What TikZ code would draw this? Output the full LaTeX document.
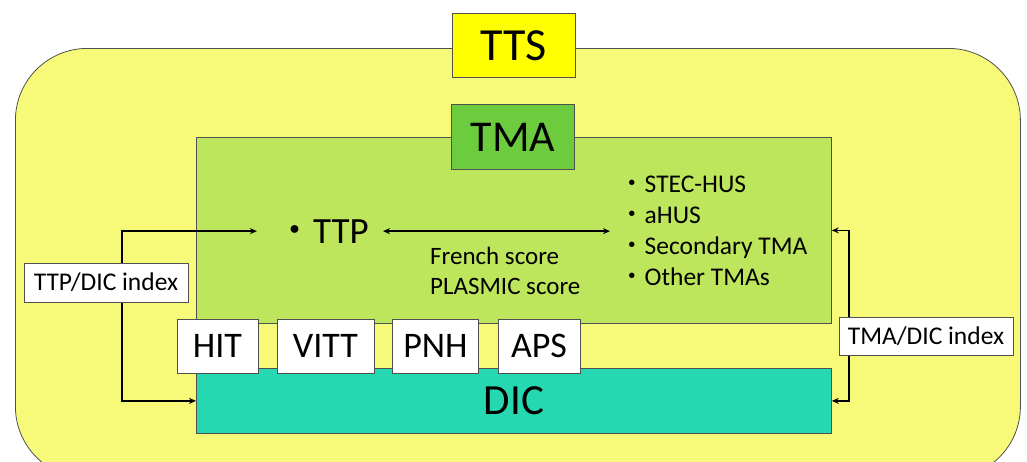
\documentclass[tikz,border=0pt]{standalone}
\usepackage{fontspec}
\setmainfont{Carlito}
\newfontfamily\cjkf{Noto Sans CJK JP}
\newcommand{\bul}{{\cjkf ・}}
\usetikzlibrary{arrows.meta}
\definecolor{outery}{HTML}{F7FA78}
\definecolor{ttsy}{HTML}{FFFF00}
\definecolor{tmag}{HTML}{6DCC3D}
\definecolor{areag}{HTML}{BEE65C}
\definecolor{dicc}{HTML}{26D8B2}
\definecolor{edge}{HTML}{505050}
\tikzset{
  box/.style={draw=edge, line width=0.8pt, inner sep=0pt, anchor=north west},
  wbox/.style={draw=edge, line width=0.8pt, fill=white, inner sep=0pt},
  conn/.style={line width=1.6pt, {Stealth[length=7pt,width=6pt]}-{Stealth[length=7pt,width=6pt]}},
}
\begin{document}
\begin{tikzpicture}[x=1pt,y=-1pt]
\useasboundingbox (0,0) rectangle (1027,461);
\clip (0,0) rectangle (1027,461);
% outer rounded area
\node[box, fill=outery, rounded corners=72pt, minimum width=1005pt, minimum height=430pt] (tts area) at (15,48) {};
\node[box, fill=ttsy, minimum width=123pt, minimum height=64pt, font=\fontsize{46}{50}\selectfont] (tts) at (452,13) {TTS};
% TMA area
\node[box, fill=areag, minimum width=635pt, minimum height=186pt] (tma area) at (196,137) {};
\node[box, fill=tmag, minimum width=123pt, minimum height=65pt, font=\fontsize{44}{50}\selectfont] (tma) at (451,104) {TMA};
% DIC
\node[box, fill=dicc, minimum width=635pt, minimum height=65pt, font=\fontsize{43}{48}\selectfont] (dic) at (196,368) {DIC};
% overlap boxes
\node[wbox, minimum width=81pt, minimum height=54pt, font=\fontsize{36}{40}\selectfont] (hit) at (217.5,346) {HIT};
\node[wbox, minimum width=97pt, minimum height=54pt, font=\fontsize{36}{40}\selectfont] (vitt) at (325.5,346) {VITT};
\node[wbox, minimum width=86pt, minimum height=54pt, font=\fontsize{36}{40}\selectfont] (pnh) at (435.5,346) {PNH};
\node[wbox, minimum width=82pt, minimum height=54pt, font=\fontsize{36}{40}\selectfont] (aps) at (539,346) {APS};
% TTP and list
\node[inner sep=0pt, anchor=base east, font=\fontsize{37}{40}\selectfont] (ttp) at (369,243) {\bul TTP};
\node[inner sep=0pt, anchor=north west, align=left, font=\fontsize{25.5}{31}\selectfont] (list) at (619,175.5)
  {\bul STEC-HUS\\ \bul aHUS\\ \bul Secondary TMA\\ \bul Other TMAs};
\node[inner sep=0pt, anchor=north west, align=left, font=\fontsize{25}{30}\selectfont] (scores) at (430,247)
  {French score\\ PLASMIC score};
% connectors
\coordinate (lx) at (122,300);
\coordinate (rx) at (849,300);
\draw[conn] ([xshift=-19pt]ttp.west |- ttp.east) -| (lx) |- (dic.west);
\draw[conn] ([xshift=14pt]ttp.east) -- ([xshift=-9pt]list.west |- ttp.east);
\draw[conn] (tma area.east) -| (rx) |- (dic.east);
% index labels
\node[wbox, minimum width=164pt, minimum height=39pt, font=\fontsize{25.5}{28}\selectfont] (ttpidx) at (106,282.5) {TTP/DIC index};
\node[wbox, minimum width=174pt, minimum height=38pt, font=\fontsize{25.5}{28}\selectfont] (tmaidx) at (926,336) {TMA/DIC index};
\end{tikzpicture}
\end{document}
